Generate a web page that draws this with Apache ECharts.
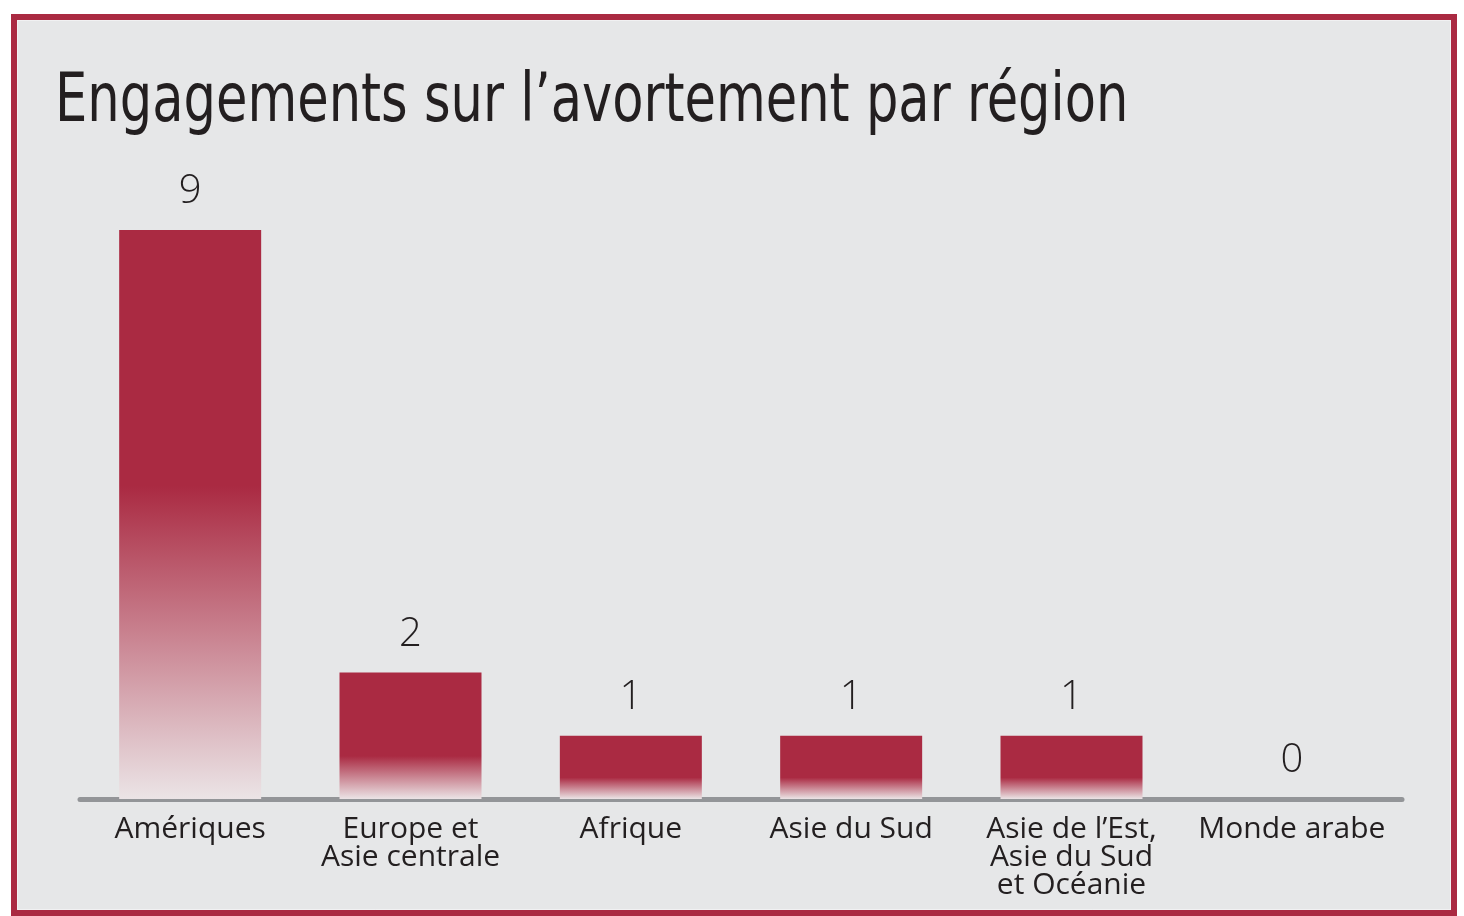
<!DOCTYPE html>
<html>
<head>
<meta charset="utf-8">
<script src="https://cdn.jsdelivr.net/npm/echarts@6/dist/echarts.min.js"></script>
<style>
html,body{margin:0;padding:0;background:#ffffff;}
#chart{width:1464px;height:916px;}
</style>
</head>
<body>
<div id="chart"></div>
<script>
const title = "Engagements sur l\u2019avortement par région";
const categories = ["Amériques", "Europe et\nAsie centrale", "Afrique", "Asie du Sud", "Asie de l\u2019Est,\nAsie du Sud\net Océanie", "Monde arabe"];
const values = [9, 2, 1, 1, 1, 0];
const fadeStart = [0.45, 0.66, 0.66, 0.66, 0.66, 0.66];

const RED = '#aa2a42';
function barColor(i) {
  return new echarts.graphic.LinearGradient(0, 0, 0, 1, [
    {offset: 0, color: RED},
    {offset: fadeStart[i], color: RED},
    {offset: 1, color: '#ebe4e6'}
  ]);
}

const chart = echarts.init(document.getElementById('chart'), null, {renderer: 'canvas'});
chart.setOption({
  backgroundColor: '#ffffff',
  animation: false,
  graphic: [
    {type: 'rect', z: -10, shape: {x: 14, y: 17, width: 1440, height: 896},
     style: {fill: '#e6e7e8', stroke: RED, lineWidth: 6}},
    {type: 'rect', z: -9, shape: {x: 17.5, y: 20.5, width: 1433, height: 889},
     style: {fill: 'none', stroke: '#f1f1f2', lineWidth: 1}},
    {type: 'text', x: 55, y: 70, scaleX: 0.848,
     style: {text: title, fontFamily: 'DejaVu Sans Condensed', fontSize: 67, fontWeight: 'normal', fill: '#231f20', textVerticalAlign: 'top'}}
  ],
  grid: {left: 80, right: 62, top: 230, bottom: 117, containLabel: false},
  xAxis: {
    type: 'category',
    data: categories,
    axisLine: {show: true, lineStyle: {color: '#939598', width: 5}},
    axisTick: {show: false},
    axisLabel: {
      interval: 0, margin: 16,
      fontFamily: 'Open Sans, Noto Sans, sans-serif', fontSize: 30, lineHeight: 28, fontWeight: 500,
      color: '#231f20'
    }
  },
  yAxis: {
    type: 'value', min: 0, max: 9,
    show: false,
    splitLine: {show: false}
  },
  series: [{
    type: 'bar',
    barWidth: 142,
    data: values.map((v, i) => ({value: v, itemStyle: {color: barColor(i)}})),
    label: {
      show: true, position: 'top', distance: 18,
      fontFamily: 'Open Sans, Noto Sans, sans-serif', fontWeight: 300, fontSize: 40,
      color: '#231f20'
    }
  }]
});
</script>
</body>
</html>
